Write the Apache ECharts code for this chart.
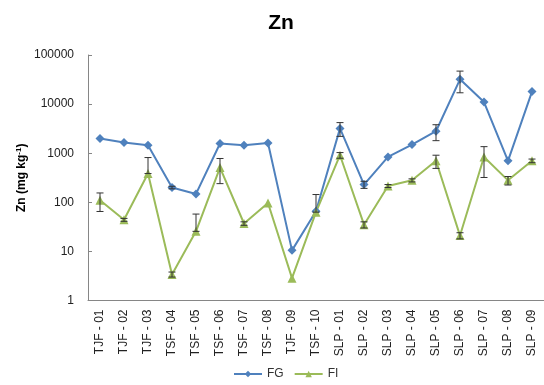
<!DOCTYPE html>
<html>
<head>
<meta charset="utf-8">
<script src="https://cdn.jsdelivr.net/npm/echarts@6/dist/echarts.min.js"></script>
<style>
  html, body { margin: 0; padding: 0; background: #fff; }
  #chart { width: 544px; height: 385px; }
</style>
</head>
<body>
<div id="chart"></div>
<script>
// Sampling sites
const categories = ['TJF - 01', 'TJF - 02', 'TJF - 03', 'TSF - 04', 'TSF - 05', 'TSF - 06', 'TSF - 07',
  'TSF - 08', 'TJF - 09', 'TSF - 10', 'SLP - 01', 'SLP - 02', 'SLP - 03', 'SLP - 04', 'SLP - 05',
  'SLP - 06', 'SLP - 07', 'SLP - 08', 'SLP - 09'];

// Zn concentration (mg kg-1) and standard deviations
const fgValues = [2000, 1650, 1450, 200, 148, 1580, 1450, 1620, 10.5, 66, 3200, 230, 840, 1500, 2800, 32000, 11000, 700, 18000];
const fgErr    = [0, 0, 0, 12, 0, 0, 0, 0, 0, 0, 1000, 38, 0, 0, 1000, 15000, 0, 0, 0];
const fiValues = [110, 44, 385, 3.4, 25.6, 510, 37, 97, 2.85, 63, 910, 35, 215, 280, 700, 21, 840, 280, 700];
const fiErr    = [45, 3, 430, 0.4, 32, 270, 3, 0, 0, 81, 120, 5, 15, 20, 210, 3, 520, 55, 60];

// Y axis tick values (log scale)
const yTicks = [1, 10, 100, 1000, 10000, 100000];

const FG_COLOR = '#4F81BD';
const FI_COLOR = '#9BBB59';

// Error bar endpoints; a lower bound that would fall at or below zero is clipped to the mean on the log axis
function errorData(values, errs) {
  return values.map((v, i) => {
    const lo = v - errs[i] > 0 ? v - errs[i] : v;
    return [i, lo, v + errs[i]];
  }).filter((d, i) => errs[i] > 0);
}

function renderErrorBar(params, api) {
  const x = api.value(0);
  const lo = api.coord([x, api.value(1)]);
  const hi = api.coord([x, api.value(2)]);
  const half = 3.5;
  const style = { stroke: '#333', lineWidth: 1 };
  return {
    type: 'group',
    children: [
      { type: 'line', shape: { x1: hi[0], y1: hi[1], x2: lo[0], y2: lo[1] }, style },
      { type: 'line', shape: { x1: hi[0] - half, y1: hi[1], x2: hi[0] + half, y2: hi[1] }, style },
      { type: 'line', shape: { x1: lo[0] - half, y1: lo[1], x2: lo[0] + half, y2: lo[1] }, style }
    ]
  };
}

const chart = echarts.init(document.getElementById('chart'), null, { renderer: 'canvas' });

chart.setOption({
  animation: false,
  backgroundColor: '#fff',
  title: {
    text: 'Zn',
    left: 276,
    textAlign: 'center',
    top: 8,
    textStyle: { fontFamily: 'Liberation Sans', fontSize: 21, fontWeight: 'bold', color: '#000' }
  },
  legend: {
    bottom: 0,
    left: 228,
    itemGap: 10,
    itemWidth: 28,
    itemHeight: 8,
    textStyle: { fontFamily: 'Liberation Sans', fontSize: 12, color: '#333' },
    data: ['FG', 'FI']
  },
  grid: { left: 88, right: -2, top: 55, bottom: 84.5 },
  xAxis: {
    type: 'category',
    data: categories,
    boundaryGap: true,
    axisLine: { lineStyle: { color: '#868686' } },
    axisTick: { alignWithLabel: true, inside: true, length: 4, lineStyle: { color: '#868686' } },
    axisLabel: {
      rotate: 90,
      interval: 0,
      margin: 9,
      fontFamily: 'Liberation Sans',
      fontSize: 12,
      color: '#222'
    }
  },
  yAxis: {
    type: 'log',
    logBase: 10,
    min: yTicks[0],
    max: yTicks[yTicks.length - 1],
    name: 'Zn (mg kg{sup|-1})',
    nameLocation: 'middle',
    nameGap: 59,
    nameMoveOverlap: false,
    nameRotate: 90,
    nameTextStyle: {
      fontFamily: 'Liberation Sans',
      fontSize: 12,
      fontWeight: 'bold',
      color: '#000',
      rich: {
        sup: { fontFamily: 'Liberation Sans', fontSize: 8, fontWeight: 'bold', color: '#000', verticalAlign: 'top', padding: [0, 0, 6, 0] }
      }
    },
    axisLine: { show: true, lineStyle: { color: '#868686' } },
    axisTick: { show: true, inside: true, length: 4, lineStyle: { color: '#868686' } },
    splitLine: { show: false },
    axisLabel: {
      margin: 14,
      fontFamily: 'Liberation Sans',
      fontSize: 12,
      color: '#222',
      formatter: v => String(Math.round(v))
    }
  },
  series: [
    {
      name: 'FG',
      type: 'line',
      data: fgValues,
      symbol: 'diamond',
      symbolSize: 9,
      itemStyle: { color: FG_COLOR },
      lineStyle: { color: FG_COLOR, width: 2 },
      z: 3
    },
    {
      name: 'FI',
      type: 'line',
      data: fiValues,
      symbol: 'triangle',
      symbolSize: 9,
      itemStyle: { color: FI_COLOR },
      lineStyle: { color: FI_COLOR, width: 2 },
      z: 3
    },
    {
      name: 'FG error',
      type: 'custom',
      renderItem: renderErrorBar,
      data: errorData(fgValues, fgErr),
      encode: { x: 0, y: [1, 2] },
      z: 4,
      silent: true
    },
    {
      name: 'FI error',
      type: 'custom',
      renderItem: renderErrorBar,
      data: errorData(fiValues, fiErr),
      encode: { x: 0, y: [1, 2] },
      z: 4,
      silent: true
    }
  ]
});
</script>
</body>
</html>
